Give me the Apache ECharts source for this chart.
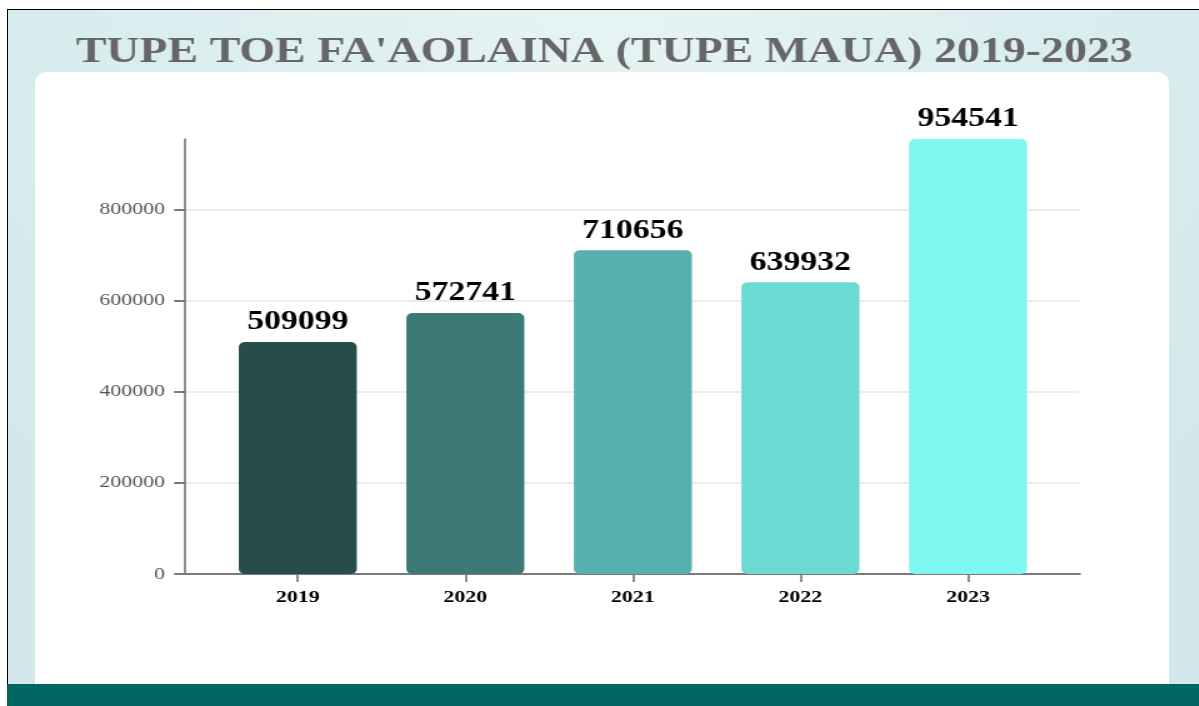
<!DOCTYPE html>
<html>
<head>
<meta charset="utf-8">
<script src="https://cdn.jsdelivr.net/npm/echarts@6/dist/echarts.min.js"></script>
<style>
  html, body { margin: 0; padding: 0; background: #ffffff; width: 1199px; height: 706px; overflow: hidden; }
  #frame { position: absolute; left: 7px; top: 9px; width: 1192px; height: 697px; box-sizing: border-box;
           border-left: 1px solid #000; border-top: 1px solid #000;
           background: radial-gradient(ellipse 70% 90% at 50% 0%, #e6f3f3 0%, #d9edee 60%, #d3e8ea 100%); }
  #panel { position: absolute; left: 35px; top: 72px; width: 1134px; height: 612px; background: #fff; border-radius: 12px 12px 0 0; }
  #footer { position: absolute; left: 7px; top: 684px; width: 1192px; height: 22px; background: #006661; }
  /* the reference's text is horizontally widened; the chart canvas is stretched the same way */
  #chart { position: absolute; left: 0; top: 0; width: 959.2px; height: 706px; transform: scaleX(1.25); transform-origin: 0 0; }
</style>
</head>
<body>
<div id="frame"></div>
<div id="panel"></div>
<div id="footer"></div>
<div id="chart"></div>
<script>
const titleText = "TUPE TOE FA'AOLAINA (TUPE MAUA) 2019-2023";
const years = ['2019', '2020', '2021', '2022', '2023'];
const values = [509099, 572741, 710656, 639932, 954541];
const barColors = ['#264d4b', '#3d7a77', '#57b0ad', '#6bdad3', '#7cf8f0'];
const yTicks = [0, 200000, 400000, 600000, 800000];

const K = 1.25; // horizontal stretch
const px = v => v / K;
const chart = echarts.init(document.getElementById('chart'), null, { renderer: 'canvas' });
const yMax = Math.max(...values);
const serif = '"Liberation Serif", "Times New Roman", serif';

chart.setOption({
  backgroundColor: 'transparent',
  animation: false,
  title: {
    text: titleText,
    left: px(598),
    textAlign: 'center',
    top: 29,
    textStyle: { fontFamily: serif, fontWeight: 'bold', fontSize: 36.7, color: '#666666' }
  },
  grid: [
    { left: px(185), right: px(119), top: 139, bottom: 132 },
    { left: px(214), right: px(147), top: 139, bottom: 132 }
  ],
  xAxis: [
    { type: 'category', gridIndex: 0, data: years, show: true,
      axisLine: { show: true, lineStyle: { color: '#7a7a7a', width: 2 } },
      axisTick: { show: false }, axisLabel: { show: false }, splitLine: { show: false } },
    { type: 'category', gridIndex: 1, data: years,
      axisLine: { show: false },
      axisTick: { show: true, alignWithLabel: true, length: 8, lineStyle: { color: '#7a7a7a', width: 1.7 } },
      axisLabel: { margin: 14, fontFamily: serif, fontWeight: 'bold', fontSize: 17.5, color: '#000' } }
  ],
  yAxis: [
    { type: 'value', gridIndex: 0, min: 0, max: yMax, interval: yTicks[1] - yTicks[0],
      axisLine: { show: true, lineStyle: { color: '#7a7a7a', width: 1.7 } },
      axisTick: { show: true, length: px(11), lineStyle: { color: '#7a7a7a', width: 2 } },
      axisLabel: { showMaxLabel: false, margin: px(20), fontFamily: serif, fontSize: 17.5, color: '#555',
                   formatter: v => String(v) },
      splitLine: { show: true, showMaxLine: false, lineStyle: { color: '#ececec', width: 2 } } },
    { type: 'value', gridIndex: 1, min: 0, max: yMax, show: false, splitLine: { show: false } }
  ],
  series: [{
    type: 'bar',
    xAxisIndex: 1, yAxisIndex: 1,
    barWidth: px(118),
    data: values.map((v, i) => ({ value: v, itemStyle: { color: barColors[i], borderRadius: 5 } })),
    label: { show: true, position: 'top', distance: 6, fontFamily: serif, fontWeight: 'bold', fontSize: 27, color: '#000' }
  }]
});
</script>
</body>
</html>
